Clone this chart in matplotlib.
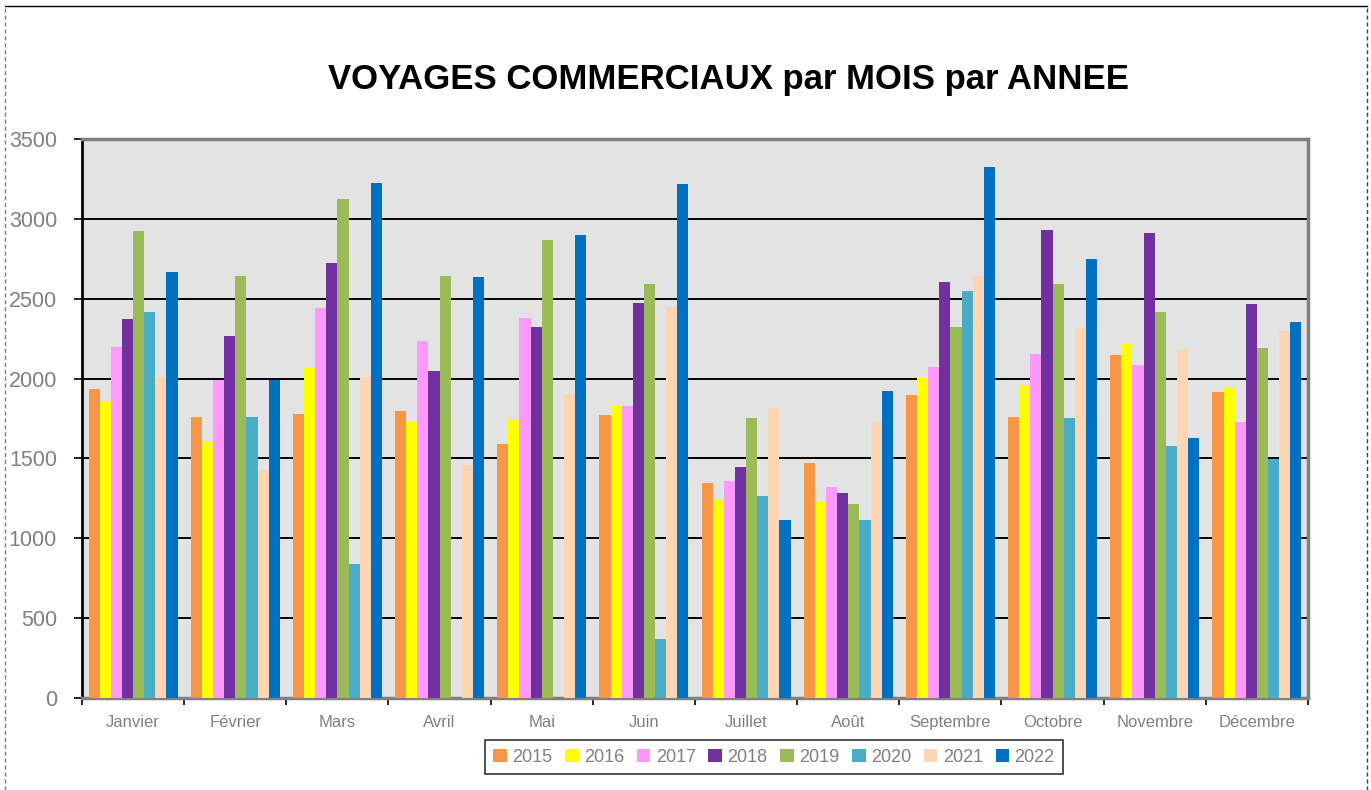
import matplotlib
matplotlib.use("Agg")
import matplotlib.pyplot as plt
import numpy as np
from matplotlib.lines import Line2D

months = ["Janvier", "Février", "Mars", "Avril", "Mai", "Juin", "Juillet",
          "Août", "Septembre", "Octobre", "Novembre", "Décembre"]
years = ["2015", "2016", "2017", "2018", "2019", "2020", "2021", "2022"]

v2015 = [1935, 1758, 1777, 1800, 1588, 1772, 1349, 1474, 1898, 1758, 2149, 1916]
v2016 = [1858, 1602, 2065, 1730, 1749, 1828, 1242, 1230, 2005, 1958, 2214, 1944]
v2017 = [2195, 1993, 2440, 2233, 2381, 1830, 1358, 1321, 2072, 2151, 2088, 1728]
v2018 = [2374, 2267, 2726, 2047, 2323, 2474, 1444, 1286, 2607, 2928, 2909, 2470]
v2019 = [2921, 2640, 3123, 2644, 2865, 2595, 1751, 1212, 2323, 2595, 2419, 2193]
v2020 = [2419, 1758, 840, 0, 0, 370, 1263, 1116, 2551, 1751, 1577, 1498]
v2021 = [2009, 1426, 2009, 1456, 1902, 2449, 1814, 1728, 2640, 2319, 2186, 2300]
v2022 = [2670, 1991, 3223, 2633, 2902, 3216, 1116, 1921, 3323, 2747, 1626, 2356]

series = [v2015, v2016, v2017, v2018, v2019, v2020, v2021, v2022]
colors = ["#F79646", "#FFFF00", "#FF99FF", "#7030A0", "#9BBB59",
          "#4BACC6", "#FCD5B5", "#0070C0"]

plt.rcParams['font.family'] = ['Liberation Sans', 'DejaVu Sans']

fig = plt.figure(figsize=(13.71, 7.90), dpi=100)
ax = fig.add_axes([82/1371, 1-698/790, (1308-82)/1371, (698-139)/790])
ax.set_facecolor("#E3E3E3")

x = np.arange(len(months))
bw = 0.109
n = len(series)
for i, (vals, c, yr) in enumerate(zip(series, colors, years)):
    off = (i - (n - 1) / 2) * bw
    ax.bar(x + off, vals, width=bw, color=c, label=yr, zorder=3, linewidth=0)

ax.set_xlim(-0.5, len(months) - 0.5)
ax.set_ylim(0, 3500)
ax.set_yticks(np.arange(0, 3501, 500))
ax.yaxis.grid(True, color="black", linewidth=1.4, zorder=1)
ax.set_axisbelow(True)

ax.set_xticks(x)
ax.set_xticklabels(months, fontsize=12, color="#808080")
ax.set_xticks(np.arange(-0.5, len(months), 1), minor=True)
ax.tick_params(axis='x', which='major', length=0, pad=12)
ax.tick_params(axis='x', which='minor', length=5, width=1.2, color="black", direction='out')
ax.tick_params(axis='y', length=6, width=1.2, color="black", direction='out',
               labelsize=15.5, labelcolor="#808080", pad=12)

ax.spines['left'].set_color("black")
ax.spines['left'].set_linewidth(2)
ax.spines['bottom'].set_color("#808080")
ax.spines['bottom'].set_linewidth(2.5)
ax.spines['top'].set_color("#808080")
ax.spines['top'].set_linewidth(2.5)
ax.spines['right'].set_color("#808080")
ax.spines['right'].set_linewidth(2.5)

fig.text(729/1371, 1-80/790, "VOYAGES COMMERCIAUX par MOIS par ANNEE",
         fontsize=25, fontweight='bold', ha='center', va='center', color="black")

leg = fig.legend(loc='center', bbox_to_anchor=(774/1371, 1-757/790), ncol=8,
                 fontsize=13, frameon=True, fancybox=False, edgecolor="black",
                 handlelength=0.75, handleheight=0.75, handletextpad=0.3,
                 columnspacing=0.7, borderpad=0.45, labelcolor="#808080")
leg.get_frame().set_linewidth(1.2)

# outer chart border
fig.add_artist(Line2D([5/1371, 1367/1371], [1-6/790, 1-6/790], color="black", linewidth=1, transform=fig.transFigure))
fig.add_artist(Line2D([5/1371, 5/1371], [0, 1-6/790], color="#808080", linewidth=1, linestyle=(0, (3, 2)), transform=fig.transFigure))
fig.add_artist(Line2D([1367/1371, 1367/1371], [0, 1-6/790], color="#404040", linewidth=1, linestyle=(0, (3, 2)), transform=fig.transFigure))

fig.savefig("out.png", dpi=100)
